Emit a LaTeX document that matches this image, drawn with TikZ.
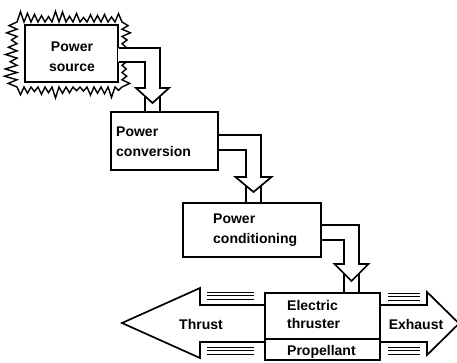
\documentclass[tikz,border=0pt]{standalone}
\usepackage{fontspec}
\setmainfont{Liberation Sans}
\usetikzlibrary{calc}
\begin{document}
\begin{tikzpicture}[x=1pt,y=-1pt,line join=miter]
\tikzset{
  blk/.style={draw,line width=1.7pt,inner sep=0pt},
  lbl/.style={font=\bfseries\fontsize{14}{20}\selectfont,inner sep=0pt},
  pipe/.style={line width=1.7pt},
  speed/.style={line width=0.9pt},
  flame/.style={line width=1.4pt,line join=miter,miter limit=30},
}
\useasboundingbox (0,0) rectangle (457,362);
\clip (0,0) rectangle (457,362);
\pgfmathsetseed{5}

% boxes
\node[blk,minimum width=93pt,minimum height=57pt] (ps) at (71.5,53.5) {};
\node[blk,minimum width=107pt,minimum height=58pt] (pcv) at (164.5,141) {};
\node[blk,minimum width=138pt,minimum height=54pt] (pcd) at (252,230) {};
\node[blk,minimum width=115pt,minimum height=67pt] (et) at (322.5,326.5) {};

% flame outline round the power source (outer spikes, inner valleys)
\draw[flame] (17,22)
  \foreach \i in {1,...,30} { -- ({17+3.5*\i},{22-mod(\i,2)*(3+8*rnd)}) }
  \foreach \i in {1,...,18} { -- ({122+mod(\i,2)*(3+6*rnd)},{22+65/18*\i}) }
  \foreach \i in {1,...,30} { -- ({122-3.5*\i},{87+mod(\i,2)*(3+8*rnd)}) }
  \foreach \i in {1,...,18} { -- ({17-mod(\i,2)*(4+9*rnd)},{87-65/18*\i}) }
  -- cycle;

% pipe 1: power source -> power conversion
\fill[white] (118,48) -| (160,88) -- (145,88) |- (118,62) -- cycle;
\draw[pipe] (ps.east|-{(0,48)}) -| (160,88) -- (169,88) -- (152.5,103) -- (136,88) -- (145,88) |- (ps.east|-{(0,62)});
\draw[pipe] (145,96.2) -- (pcv.north-|{(145,0)});
\draw[pipe] (160,96.2) -- (pcv.north-|{(160,0)});

% pipe 2: power conversion -> power conditioning
\draw[pipe] (pcv.east|-{(0,135)}) -| (261,177) -- (271.5,177) -- (253.5,192) -- (235.5,177) -- (246,177) |- (pcv.east|-{(0,150)});
\draw[pipe] (246,185.8) -- (pcd.north-|{(246,0)});
\draw[pipe] (261,185.8) -- (pcd.north-|{(261,0)});

% pipe 3: power conditioning -> electric thruster
\draw[pipe] (pcd.east|-{(0,225)}) -| (359,264) -- (368.5,264) -- (351.5,281) -- (334.5,264) -- (344,264) |- (pcd.east|-{(0,240)});
\draw[pipe] (344,273.5) -- (et.north-|{(344,0)});
\draw[pipe] (359,273.5) -- (et.north-|{(359,0)});

% divider in thruster box
\coordinate (dv) at (0,339);
\draw[pipe] (et.west|-dv) -- (et.east|-dv);

% thrust arrow
\draw[pipe] (et.west|-{(0,305)}) -- (200,305) -- (200,288) -- (122,323) -- (200,358) -- (200,342) -- (et.west|-{(0,342)});
% exhaust arrow
\draw[pipe] (et.east|-{(0,305)}) -- (427,305) -- (427,292) -- (459,323.5) -- (427,355) -- (427,342) -- (et.east|-{(0,342)});

% speed lines
\foreach \yy in {292,295.5,299,347,350.5,354} {
  \draw[speed] (207,\yy) -- (254,\yy);
}
\foreach \yy in {293,296.5,300,347,350.5,354} {
  \draw[speed] (388,\yy) -- (420,\yy);
}

% labels
\node[lbl,align=center] (tps) at (72,57) {Power\\source};
\node[lbl,align=left,anchor=west] (tpc) at (116,142) {Power\\conversion};
\node[lbl,align=left,anchor=west] (tpd) at (213,230) {Power\\conditioning};
\node[lbl,align=left,anchor=west,font=\bfseries\fontsize{14}{18}\selectfont] (tet) at (287,314) {Electric\\thruster};
\node[lbl,anchor=west] (tpr) at (287,352) {Propellant};
\node[lbl] (tth) at (201,324) {Thrust};
\node[lbl] (tex) at (416,324) {Exhaust};
\end{tikzpicture}
\end{document}
